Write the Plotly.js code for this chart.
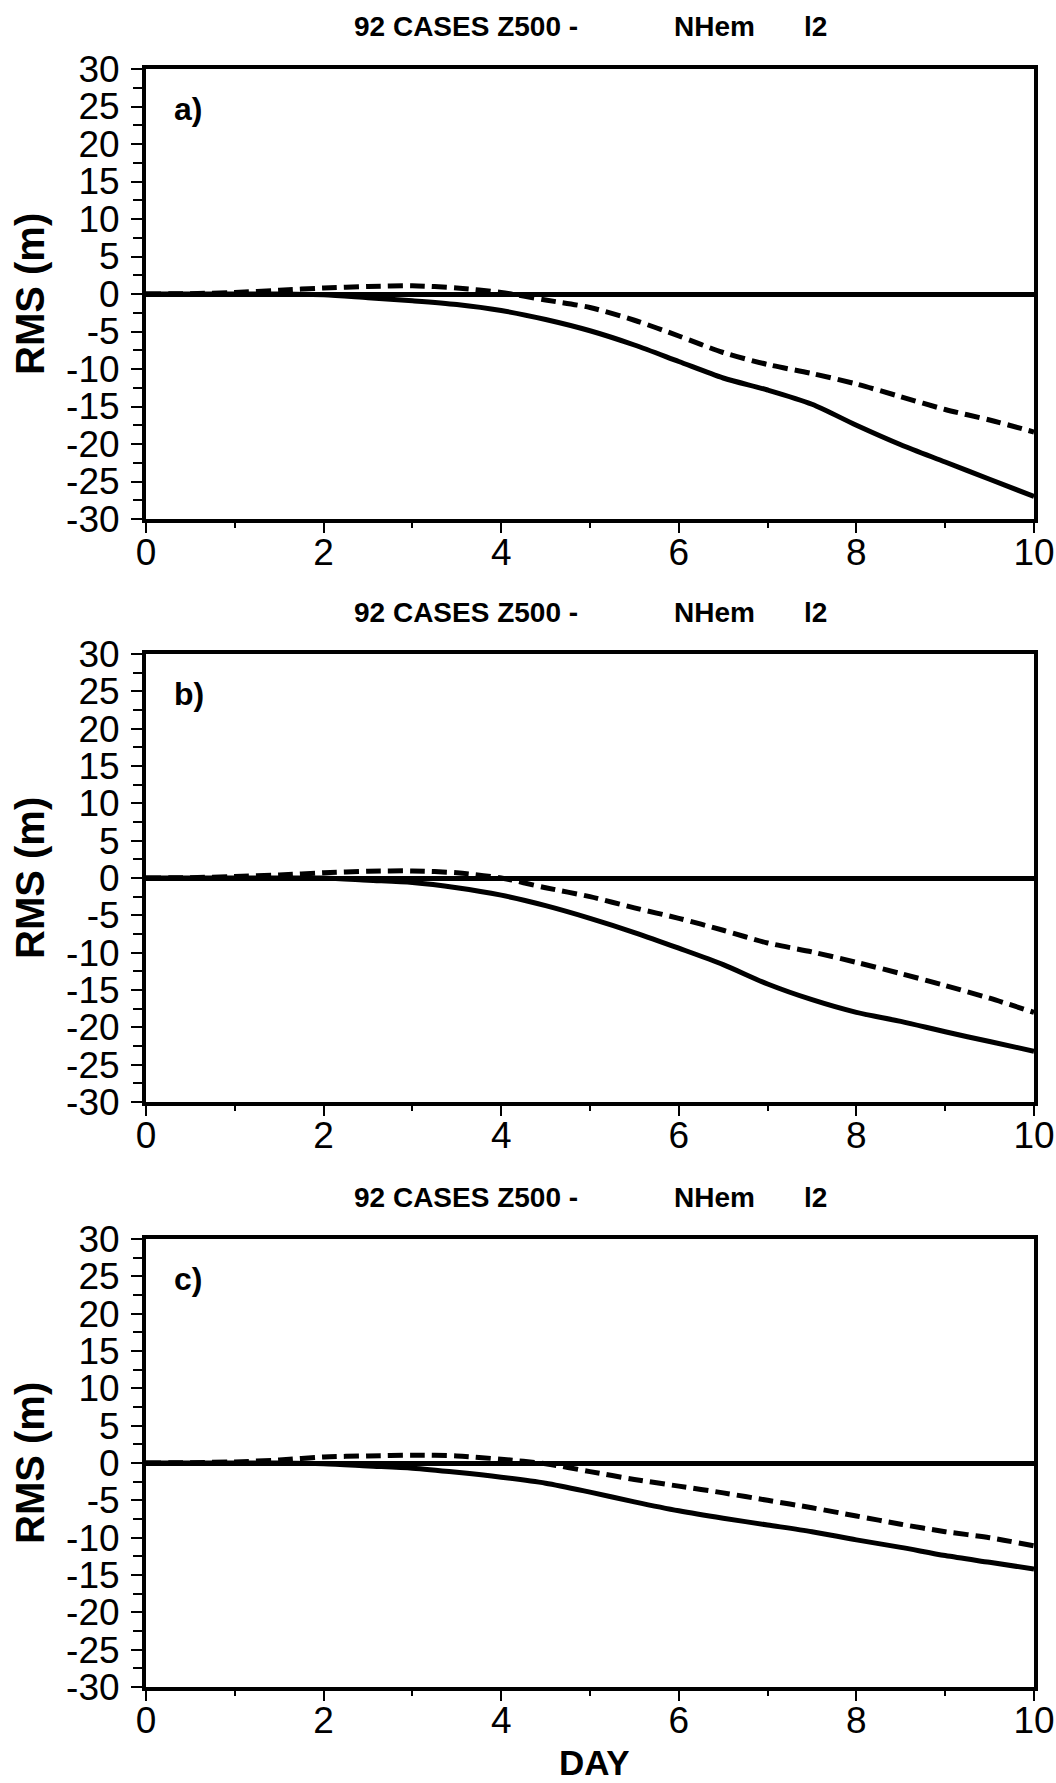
<!DOCTYPE html>
<html>
<head>
<meta charset="utf-8">
<script src="https://cdn.plot.ly/plotly-3.0.1.min.js"></script>
<style>html,body{margin:0;padding:0;background:#fff;}#chart{width:1056px;height:1783px;}</style>
</head>
<body>
<div id="chart"></div>
<script>
// ---- data ----
var days = [0,0.5,1,1.5,2,2.5,3,3.5,4,4.5,5,5.5,6,6.5,7,7.5,8,8.5,9,9.5,10];
var aSolid  = [0,0,0,0,-0.1,-0.5,-0.9,-1.4,-2.2,-3.4,-4.9,-6.8,-9.0,-11.2,-12.8,-14.7,-17.5,-20.1,-22.4,-24.7,-27.0];
var aDashed = [0,0.05,0.2,0.5,0.8,1.0,1.1,0.8,0.2,-0.8,-1.8,-3.5,-5.6,-7.8,-9.4,-10.6,-12.0,-13.7,-15.4,-16.8,-18.4];
var bSolid  = [0,0,0,0,0,-0.3,-0.6,-1.3,-2.3,-3.7,-5.4,-7.3,-9.4,-11.6,-14.2,-16.3,-18.0,-19.2,-20.6,-21.9,-23.2];
var bDashed = [0,0.05,0.2,0.4,0.7,0.9,0.95,0.7,0,-1.3,-2.5,-4.0,-5.4,-7.0,-8.7,-9.9,-11.3,-12.8,-14.4,-16.1,-18.0];
var cSolid  = [0,0,0,0,-0.1,-0.4,-0.7,-1.25,-1.9,-2.7,-3.9,-5.2,-6.4,-7.4,-8.3,-9.2,-10.3,-11.3,-12.4,-13.3,-14.2];
var cDashed = [0,0.05,0.15,0.4,0.8,0.95,1.05,0.95,0.5,-0.1,-1.15,-2.2,-3.1,-4.0,-5.0,-6.0,-7.1,-8.2,-9.2,-10.0,-11.1];
var xTickVals = [0,2,4,6,8,10];
var xTickText = ["0","2","4","6","8","10"];
var yTickVals = [-30,-25,-20,-15,-10,-5,0,5,10,15,20,25,30];
var yTickText = ["-30","-25","-20","-15","-10","-5","0","5","10","15","20","25","30"];
var panelLetters = ["a)","b)","c)"];
var titleParts = ["92 CASES Z500 -","NHem","l2"];
var yTitle = "RMS (m)";
var xTitle = "DAY";

// ---- layout helpers (pixel -> paper) ----
var W = 1056, H = 1783;
function px(x){return x/W;}
function py(y){return 1 - y/H;}
var plotL = 146, plotR = 1034;
var panels = [{top:69,bottom:519},{top:654,bottom:1102},{top:1239,bottom:1687}];
var series = [[aSolid,aDashed],[bSolid,bDashed],[cSolid,cDashed]];

var FONT = "Liberation Sans, Arial, Helvetica, sans-serif";
var traces = [];
var layout = {
  width: W, height: H,
  margin: {l:0,r:0,t:0,b:0},
  paper_bgcolor: "#fff", plot_bgcolor: "#fff",
  showlegend: false,
  font: {family: FONT, color: "#000"},
  annotations: []
};

panels.forEach(function(p, i){
  var n = i === 0 ? "" : String(i+1);
  var xa = "x"+n, ya = "y"+n;
  traces.push({x: days, y: series[i][0], xaxis: xa, yaxis: ya, mode: "lines",
    line: {color: "#000", width: 5, shape: "spline", smoothing: 0.8}, hoverinfo: "skip"});
  traces.push({x: days, y: series[i][1], xaxis: xa, yaxis: ya, mode: "lines",
    line: {color: "#000", width: 5, dash: "15px,7px", shape: "spline", smoothing: 0.8}, hoverinfo: "skip"});
  layout["xaxis"+n] = {
    domain: [px(plotL), px(plotR)], anchor: ya, range: [0,10],
    tickmode: "array", tickvals: xTickVals, ticktext: xTickText,
    ticks: "outside", ticklen: 10, tickwidth: 2, tickcolor: "#000", ticklabelstandoff: -12,
    minor: {tickmode: "linear", tick0: 0, dtick: 1, ticks: "outside", ticklen: 5, tickwidth: 2, tickcolor: "#000"},
    showline: true, linewidth: 4, linecolor: "#000", mirror: true,
    showgrid: false, zeroline: false,
    tickfont: {family: FONT, size: 37, color: "#000"}, fixedrange: true
  };
  layout["yaxis"+n] = {
    domain: [py(p.bottom), py(p.top)], anchor: xa, range: [-30,30],
    tickmode: "array", tickvals: yTickVals, ticktext: yTickText,
    ticks: "outside", ticklen: 11, tickwidth: 2, tickcolor: "#000", ticklabelstandoff: 4,
    minor: {tickmode: "linear", tick0: -30, dtick: 2.5, ticks: "outside", ticklen: 9, tickwidth: 2, tickcolor: "#000"},
    showline: true, linewidth: 4, linecolor: "#000", mirror: true,
    showgrid: false, zeroline: true, zerolinewidth: 5, zerolinecolor: "#000",
    tickfont: {family: FONT, size: 37, color: "#000"}, fixedrange: true
  };
  var ty = p.top - 42;
  var tx = [352, 672, 802];
  titleParts.forEach(function(t, k){
    layout.annotations.push({text: "<b>"+t+"</b>", xref: "paper", yref: "paper",
      x: px(tx[k]), y: py(ty), xanchor: "left", yanchor: "middle", showarrow: false,
      font: {family: FONT, size: 28, color: "#000"}});
  });
  layout.annotations.push({text: "<b>"+panelLetters[i]+"</b>", xref: "paper", yref: "paper",
    x: px(172), y: py(p.top + 40), xanchor: "left", yanchor: "middle", showarrow: false,
    font: {family: FONT, size: 32, color: "#000"}});
  layout.annotations.push({text: "<b>"+yTitle+"</b>", xref: "paper", yref: "paper",
    x: px(30), y: py((p.top+p.bottom)/2), xanchor: "center", yanchor: "middle", textangle: -90,
    showarrow: false, font: {family: FONT, size: 40, color: "#000"}});
});
layout.annotations.push({text: "<b>"+xTitle+"</b>", xref: "paper", yref: "paper",
  x: px(594), y: py(1762), xanchor: "center", yanchor: "middle", showarrow: false,
  font: {family: FONT, size: 35, color: "#000"}});

Plotly.newPlot("chart", traces, layout, {staticPlot: true, displayModeBar: false});
</script>
</body>
</html>
